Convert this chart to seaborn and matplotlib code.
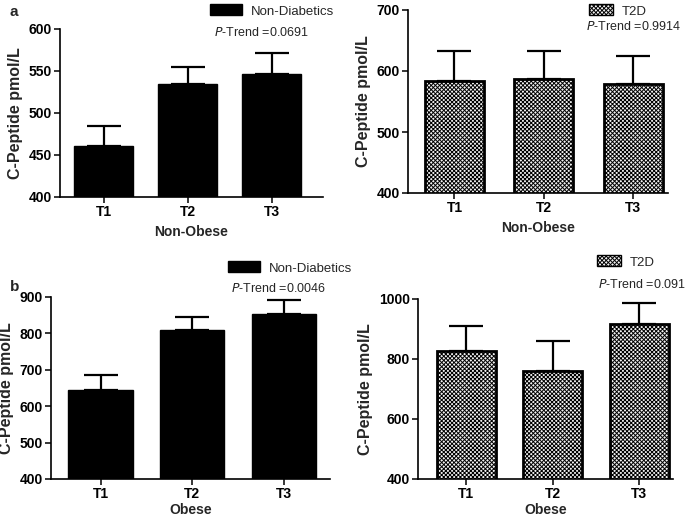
import matplotlib
matplotlib.use("Agg")
import matplotlib.pyplot as plt
from matplotlib.patches import Patch
import seaborn as sns
import pandas as pd
import numpy as np

sns.set_style("ticks")
plt.rcParams['font.family'] = ['Liberation Sans', 'DejaVu Sans']
plt.rcParams['hatch.linewidth'] = 0.7

tertiles = ["T1", "T2", "T3"]

nonob_nd_mean = [461, 534, 547]
nonob_nd_err = [24, 21, 24]
nonob_t2d_mean = [584, 587, 579]
nonob_t2d_err = [48, 45, 45]
ob_nd_mean = [644, 809, 854]
ob_nd_err = [41, 36, 37]
ob_t2d_mean = [828, 761, 917]
ob_t2d_err = [81, 98, 71]

ptrend = ["0.0691", "0.9914", "0.0046", "0.091"]
group_labels = ["Non-Diabetics", "T2D", "Non-Diabetics", "T2D"]
xlabels = ["Non-Obese", "Non-Obese", "Obese", "Obese"]
ylims = [(400, 600), (400, 700), (400, 900), (400, 1000)]
yticks = [[400, 450, 500, 550, 600], [400, 500, 600, 700],
          [400, 500, 600, 700, 800, 900], [400, 600, 800, 1000]]

means = [nonob_nd_mean, nonob_t2d_mean, ob_nd_mean, ob_t2d_mean]
errs = [nonob_nd_err, nonob_t2d_err, ob_nd_err, ob_t2d_err]

fig = plt.figure(figsize=(6.85, 5.2), dpi=100)
W, H = 685, 520
def rect(l, t, r, b):
    return [l / W, 1 - b / H, (r - l) / W, (b - t) / H]

axes_rects = [rect(60, 29, 323, 197), rect(408, 10, 668, 193),
              rect(51, 297, 330, 479), rect(418, 299, 673, 479)]
xlims = [(-0.52, 2.61), (-0.52, 2.39), (-0.54, 2.5), (-0.56, 2.39)]
widths = [0.7, 0.66, 0.7, 0.68]
hatched = [False, True, False, True]
xlabelpads = [4, 4, 1, 1]
HATCH = "xxxxxxxx"

# legend/annotation positions in pixels (patch left, patch center y, ptrend left, ptrend center y)
leg_pos = [(210, 11, 214, 32), (589, 11, 586, 27), (228, 268, 231, 288), (597, 262, 598, 285)]

for i in range(4):
    ax = fig.add_axes(axes_rects[i])
    df = pd.DataFrame({"tertile": tertiles, "value": means[i]})
    if hatched[i]:
        sns.barplot(data=df, x="tertile", y="value", color="#f2f2f2", edgecolor="black",
                    linewidth=2, hatch=HATCH, width=widths[i], errorbar=None, ax=ax,
                    saturation=1)
    else:
        sns.barplot(data=df, x="tertile", y="value", color="black", edgecolor="black",
                    width=widths[i], errorbar=None, ax=ax, saturation=1)
    ax.errorbar(x=np.arange(3), y=means[i], yerr=[np.zeros(3), errs[i]], fmt="none",
                ecolor="black", elinewidth=1.6, capsize=12, capthick=1.6, zorder=0)
    ax.set_ylim(*ylims[i])
    ax.set_yticks(yticks[i])
    ax.set_xlim(*xlims[i])
    for s in ["top", "right"]:
        ax.spines[s].set_visible(False)
    for s in ["left", "bottom"]:
        ax.spines[s].set_linewidth(1.2)
        ax.spines[s].set_color("black")
    ax.tick_params(axis="both", direction="out", length=4, width=1.1, colors="black",
                   labelsize=10, pad=2)
    for lab in ax.get_xticklabels() + ax.get_yticklabels():
        lab.set_fontweight("bold")
    ax.set_xlabel(xlabels[i], fontsize=10, fontweight="bold", labelpad=xlabelpads[i])
    ax.set_ylabel("C-Peptide pmol/L", fontsize=11.5, fontweight="bold", labelpad=4)

    px, py, tx, ty = leg_pos[i]
    handle = Patch(facecolor="black" if not hatched[i] else "#f2f2f2", edgecolor="black",
                   hatch=None if not hatched[i] else HATCH, linewidth=1)
    fig.legend(handles=[handle], labels=[group_labels[i]], loc="center left",
               bbox_to_anchor=(px / W, 1 - py / H), frameon=False, borderpad=0,
               borderaxespad=0, handlelength=2.4 if not hatched[i] else 1.8,
               handleheight=0.9, handletextpad=0.7, fontsize=9.5)
    fig.text(tx / W, 1 - ty / H, "$\\it{P}$" + "-Trend =" + ptrend[i], fontsize=9,
             ha="left", va="center")

fig.text(10 / W, 1 - 12 / H, "a", fontsize=11, fontweight="bold", ha="left", va="center")
fig.text(10 / W, 1 - 287 / H, "b", fontsize=11, fontweight="bold", ha="left", va="center")

fig.savefig("out.png", dpi=100)
